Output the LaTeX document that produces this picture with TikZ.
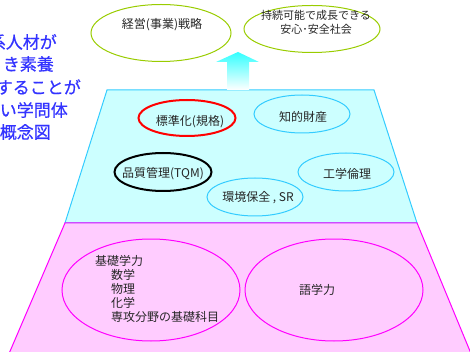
\documentclass[tikz,border=0pt]{standalone}
\usepackage{fontspec}
\newfontfamily\jp{Noto Sans CJK JP}
\newfontfamily\jpb[FakeBold=0.6]{Noto Sans CJK JP}
\usetikzlibrary{shapes.geometric}
\definecolor{cyanfill}{HTML}{CCFFFF}
\definecolor{cyanline}{HTML}{33CCFF}
\definecolor{pinkfill}{HTML}{FFCCFF}
\definecolor{pinkline}{HTML}{FF00FF}
\definecolor{olive}{HTML}{99CC00}
\definecolor{bluetext}{HTML}{3333FF}
\definecolor{arrowcyan}{HTML}{33FFFF}
\tikzset{
  lbl/.style={font=\jp\fontsize{12}{14}\selectfont, text=black!85, inner sep=0pt},
  oval/.style={ellipse, draw, line width=1pt, inner sep=0pt},
  cyanoval/.style={oval, draw=cyanline},
  pinkoval/.style={oval, draw=pinkline},
  greenoval/.style={oval, draw=olive},
  bluelbl/.style={font=\jpb\fontsize{17}{20}\selectfont, text=bluetext, inner sep=0pt, anchor=east},
}
\begin{document}
\begin{tikzpicture}[x=1pt,y=-1pt]
\useasboundingbox (0,0) rectangle (470,352);
\clip (0,0) rectangle (470,352);
% trapezoids
\draw[fill=cyanfill, draw=cyanline, line width=1pt] (65,223) -- (107,90) -- (374,90) -- (417,223) -- cycle;
\fill[pinkfill] (8,355) -- (65,223.5) -- (417,223.5) -- (472,355) -- cycle;
\draw[draw=pinkline, line width=1pt] (8,356) -- (65,223) -- (417,223) -- (472,356);
% arrow
\shade[top color=arrowcyan, bottom color=white] (227,90) -- (227,62) -- (216,62) -- (238,52) -- (259,62) -- (249,62) -- (249,90) -- cycle;
% top ellipses
\node[greenoval, minimum width=140pt, minimum height=57pt] (strat) at (161,33) {};
\node[lbl] (stratT) at (162,25) {経営(事業)戦略};
\node[greenoval, minimum width=136pt, minimum height=47pt] (soc) at (312,29) {};
\node[lbl, font=\jp\fontsize{11}{14}\selectfont, align=center] (socT) at (316,22) {持続可能で成長できる\\安心･安全社会};
% cyan area ellipses
\node[oval, draw=red, line width=2pt, minimum width=97pt, minimum height=36pt] (std) at (187,118) {};
\node[lbl] (stdT) at (190,122) {標準化(規格)};
\node[cyanoval, minimum width=96pt, minimum height=38pt] (ip) at (302,114) {};
\node[lbl] (ipT) at (303,117) {知的財産};
\node[oval, draw=black, line width=2pt, minimum width=97pt, minimum height=38pt] (tqm) at (163,172) {};
\node[lbl] (tqmT) at (163,174) {品質管理(TQM)};
\node[cyanoval, minimum width=96pt, minimum height=38pt] (eth) at (346,172) {};
\node[lbl] (ethT) at (347,174) {工学倫理};
\node[cyanoval, minimum width=96pt, minimum height=38pt] (env) at (255,197) {};
\node[lbl] (envT) at (258,198) {環境保全 , SR};
% pink area ellipses
\node[pinkoval, minimum width=178pt, minimum height=102pt] (basic) at (151,290) {};
\node[lbl, anchor=north west, align=left, font=\jp\fontsize{12}{14}\selectfont] (basicT) at (95,255) {基礎学力\\\hspace{16pt}数学\\\hspace{16pt}物理\\\hspace{16pt}化学\\\hspace{16pt}専攻分野の基礎科目};
\node[pinkoval, minimum width=178pt, minimum height=102pt] (lang) at (334,290) {};
\node[lbl] (langT) at (317,290) {語学力};
% left clipped text
\node[bluelbl] (b1) at (57,42) {系人材が};
\node[bluelbl] (b2) at (54,64) {き素養};
\node[bluelbl] (b3) at (81,87) {することが};
\node[bluelbl] (b4) at (68,110) {い学問体};
\node[bluelbl] (b5) at (51,132) {概念図};
\end{tikzpicture}
\end{document}
